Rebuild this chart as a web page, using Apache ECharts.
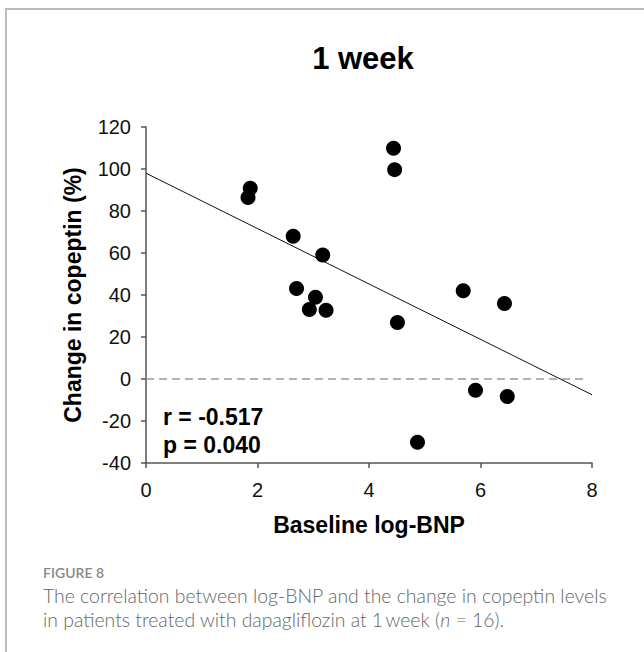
<!DOCTYPE html>
<html>
<head>
<meta charset="utf-8">
<script src="https://cdn.jsdelivr.net/npm/echarts@6/dist/echarts.min.js"></script>
<style>
html,body{margin:0;padding:0;background:#fff;}
#chart{width:644px;height:652px;}
</style>
</head>
<body>
<div id="chart"></div>
<script>
// Data
var baselineLogBNP = [1.87, 1.83, 2.64, 3.17, 2.70, 3.04, 2.93, 3.23, 4.44, 4.46, 5.69, 6.43, 4.51, 5.91, 6.48, 4.87];
var copeptinChange = [90.8, 86.4, 68.0, 59.0, 43.1, 38.9, 33.1, 32.7, 109.9, 99.7, 42.0, 35.9, 26.9, -5.4, -8.3, -30.1];
var fitX = [0, 8];
var fitY = [98.0, -7.5];
var refX = [0, 7.92];
var refY = [0, 0];
var xTicks = [0, 2, 4, 6, 8];
var yTicks = [-40, -20, 0, 20, 40, 60, 80, 100, 120];
var titleText = '1 week';
var xName = 'Baseline log-BNP';
var yName = 'Change in copeptin (%)';
var statLines = ['r = -0.517', 'p = 0.040'];
var figLabel = 'FIGURE 8';
var captionLines = ['The correlation between log-BNP and the change in copeptin levels',
                    'in patients treated with dapagliflozin at 1\u2009week ('];

var points = baselineLogBNP.map(function (x, i) { return [x, copeptinChange[i]]; });
var fitLine = fitX.map(function (x, i) { return [x, fitY[i]]; });
var refLine = refX.map(function (x, i) { return [x, refY[i]]; });

var chart = echarts.init(document.getElementById('chart'), null, {renderer: 'svg'});
var F = '"Liberation Sans", Arial, sans-serif';
var CF = 'Lato, "Open Sans", sans-serif';

chart.setOption({
  animation: false,
  grid: {left: 146, right: 52, top: 127, bottom: 189},
  xAxis: {
    type: 'value', min: xTicks[0], max: xTicks[xTicks.length - 1], interval: 2,
    splitLine: {show: false},
    axisLine: {onZero: false, lineStyle: {color: '#555', width: 1.5}},
    axisTick: {show: true, length: 5, lineStyle: {color: '#555', width: 1.5}},
    axisLabel: {color: '#111', fontSize: 20, fontFamily: F, margin: 17},
    name: xName, nameLocation: 'middle', nameGap: 50,
    nameTextStyle: {color: '#000', fontSize: 23, fontWeight: 'bold', fontFamily: F}
  },
  yAxis: {
    type: 'value', min: yTicks[0], max: yTicks[yTicks.length - 1], interval: 20,
    splitLine: {show: false},
    axisLine: {onZero: false, lineStyle: {color: '#555', width: 1.5}},
    axisTick: {show: true, length: 5, lineStyle: {color: '#555', width: 1.5}},
    axisLabel: {color: '#111', fontSize: 20, fontFamily: F, margin: 15},
    name: yName, nameLocation: 'middle', nameGap: 62,
    nameTextStyle: {color: '#000', fontSize: 23, fontWeight: 'bold', fontFamily: F}
  },
  series: [
    {
      type: 'line', data: refLine, symbol: 'none', silent: true,
      lineStyle: {color: '#999', width: 1.5, type: [8, 5]}, z: 1
    },
    {
      type: 'line', data: fitLine, symbol: 'none', silent: true,
      lineStyle: {color: '#111', width: 1}, z: 2
    },
    {
      type: 'scatter', data: points, symbol: 'circle', symbolSize: 15,
      itemStyle: {color: '#000', opacity: 1}, z: 3
    }
  ],
  graphic: [
    {type: 'rect', shape: {x: 6, y: 9, width: 700, height: 700},
     style: {fill: 'none', stroke: '#bbb', lineWidth: 2}, silent: true, z: -10},
    {type: 'text', x: 363, y: 58, style: {text: titleText, textAlign: 'center', textVerticalAlign: 'middle',
      font: 'bold 31px ' + F, fill: '#000'}},
    {type: 'text', x: 163, y: 417, style: {text: statLines[0], textVerticalAlign: 'middle',
      font: 'bold 23px ' + F, fill: '#000'}},
    {type: 'text', x: 163, y: 445, style: {text: statLines[1], textVerticalAlign: 'middle',
      font: 'bold 23px ' + F, fill: '#000'}},
    {type: 'text', x: 43, y: 572, style: {text: figLabel, textVerticalAlign: 'middle',
      font: '600 14px ' + CF, fill: '#888'}},
    {type: 'text', x: 43, y: 595, style: {text: captionLines[0], textVerticalAlign: 'middle',
      font: '300 19.4px ' + CF, fill: '#666'}},
    {type: 'text', x: 43, y: 619, style: {
      rich: {n: {font: '300 19.4px ' + CF, fill: '#666'}, i: {font: 'italic 300 19.4px ' + CF, fill: '#666'}},
      text: '{n|' + captionLines[1] + '}{i|n}{n| = 16).}', textVerticalAlign: 'middle'}}
  ]
});
</script>
</body>
</html>
